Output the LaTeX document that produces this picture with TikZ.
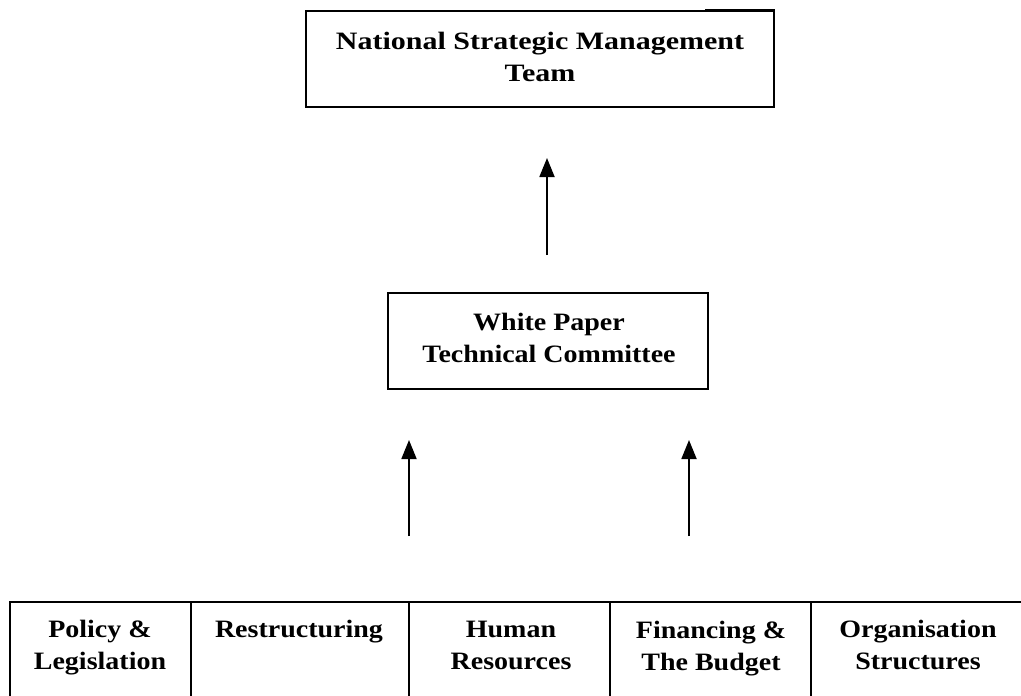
\documentclass[tikz,border=0pt]{standalone}
\usepackage{fontspec}
\setmainfont{Liberation Serif}[FakeStretch=1.12]
\usetikzlibrary{arrows.meta}
\begin{document}
\begin{tikzpicture}[x=1pt,y=-1pt,
  boxtext/.style={font=\bfseries\fontsize{25}{32}\selectfont, align=center,
    inner sep=0pt, anchor=north},
  frame/.style={draw=black, line width=1.5pt},
  uparrow/.style={-{Triangle[width=15pt,length=19pt]}, line width=1.8pt},
  grid/.style={line width=1.7pt}]
  \useasboundingbox (0,0) rectangle (1021,696);

  % top: management team
  \draw[frame] (306,11) rectangle (774,107);
  \draw[line width=3pt] (705,10) -- (775,10);
  \node[boxtext, font=\bfseries\fontsize{25}{32}\selectfont\addfontfeature{FakeStretch=1.2}]
    (nsmt) at (540,32) {National Strategic Management\\Team};

  % middle: technical committee
  \draw[frame] (388,293) rectangle (708,389);
  \node[boxtext] (wptc) at (549,313) {White Paper\\Technical Committee};

  % arrows
  \coordinate (a1s) at (547,255);
  \coordinate (a1e) at (547,158);
  \draw[uparrow] (a1s) -- (a1e);
  \coordinate (a2s) at (409,536);
  \coordinate (a2e) at (409,440);
  \draw[uparrow] (a2s) -- (a2e);
  \coordinate (a3s) at (689,536);
  \coordinate (a3e) at (689,440);
  \draw[uparrow] (a3s) -- (a3e);

  % bottom row of task teams
  \draw[grid] (1021,602) -- (10,602) -- (10,697);
  \foreach \x in {191,409,610,811} \draw[grid] (\x,602) -- (\x,697);
  \node[boxtext] (pl) at (100,620) {Policy \&\\Legislation};
  \node[boxtext] (rs) at (299,620) {Restructuring};
  \node[boxtext] (hr) at (511,621) {Human\\Resources};
  \node[boxtext] (fb) at (711,621) {Financing \&\\The Budget};
  \node[boxtext] (os) at (918,620) {Organisation\\Structures};
\end{tikzpicture}
\end{document}
